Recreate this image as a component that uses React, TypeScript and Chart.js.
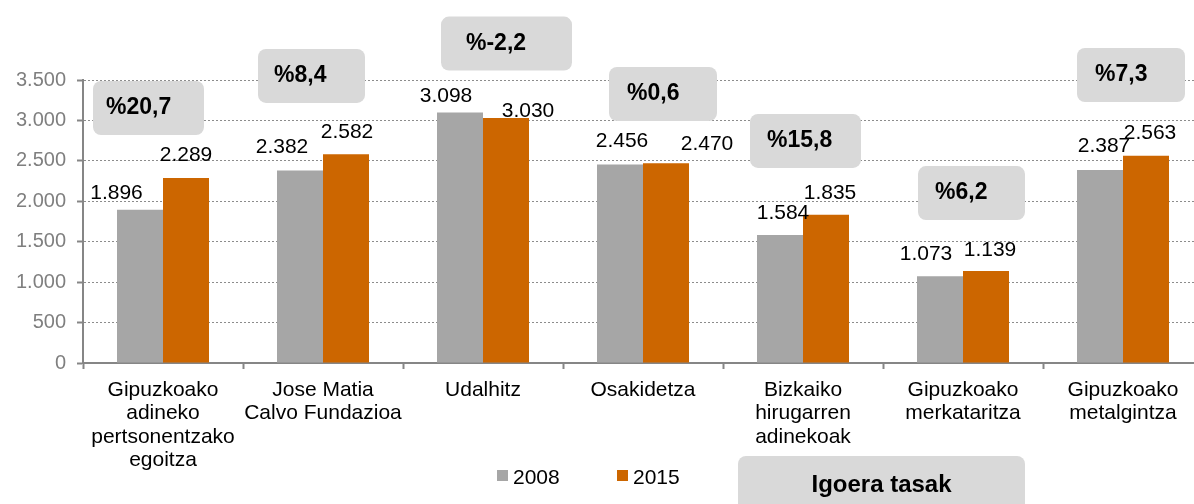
import React, { useEffect, useRef } from "react";
import { Chart, registerables } from "chart.js";

Chart.register(...registerables);

// ---------- data ----------
const categories: string[][] = [
  ["Gipuzkoako", "adineko", "pertsonentzako", "egoitza"],
  ["Jose Matia", "Calvo Fundazioa"],
  ["Udalhitz"],
  ["Osakidetza"],
  ["Bizkaiko", "hirugarren", "adinekoak"],
  ["Gipuzkoako", "merkataritza"],
  ["Gipuzkoako", "metalgintza"],
];
const seriesNames = ["2008", "2015"];
const values2008 = [1896, 2382, 3098, 2456, 1584, 1073, 2387];
const values2015 = [2289, 2582, 3030, 2470, 1835, 1139, 2563];
const growthLabels = ["%20,7", "%8,4", "%-2,2", "%0,6", "%15,8", "%6,2", "%7,3"];
// value (in axis units) at which each growth box is centred
const growthBoxLevel = [3154, 3550, 3951, 3327, 2746, 2102, 3562];
const yMin = 0;
const yMax = 3500;
const yStep = 500;
const footerLabel = "Igoera tasak";

// ---------- styles ----------
const FONT = "'Liberation Sans', Arial, sans-serif";
const GREY = "#A6A6A6";
const ORANGE = "#CC6600";
const AXIS = "#868686";
const BOX = "#D9D9D9";
// label nudges (px) relative to each bar's top centre
const labelDx = [
  [-23.5, -18, -14, 2, 3, -14, 4],
  [0, 1, 22, 41, 4, 4, 4],
];
const labelLift = [
  [16, 23, 16, 23, 22, 22, 24],
  [23, 22.5, 7, 19, 21.5, 21, 23],
];
const boxShift = [-14.5, -11.5, 23.5, 20, 2.5, 8.5, 8];
const boxWidth = [111, 107, 131, 108, 111, 107, 108];
const boxInset = [13, 16, 25, 18, 17, 17, 18];
const BOX_H = 54;

const fmt = (n: number) =>
  String(Math.round(n)).replace(/\B(?=(\d{3})+(?!\d))/g, ".");

const overlay = {
  id: "overlay",
  afterDraw(chart: any) {
    const ctx = chart.ctx as CanvasRenderingContext2D;
    const xs = chart.scales.x;
    const ys = chart.scales.y;
    ctx.save();

    // growth boxes
    growthLabels.forEach((t, i) => {
      const cx = xs.getPixelForValue(i) + boxShift[i];
      const cy = ys.getPixelForValue(growthBoxLevel[i]);
      const left = cx - boxWidth[i] / 2;
      ctx.fillStyle = BOX;
      ctx.beginPath();
      (ctx as any).roundRect(left, cy - BOX_H / 2, boxWidth[i], BOX_H, 8);
      ctx.fill();
      ctx.fillStyle = "#000";
      ctx.font = `bold 23px ${FONT}`;
      ctx.textAlign = "left";
      ctx.textBaseline = "middle";
      ctx.fillText(t, left + boxInset[i], cy);
    });

    // data labels
    chart.data.datasets.forEach((ds: any, di: number) => {
      const meta = chart.getDatasetMeta(di);
      meta.data.forEach((bar: any, i: number) => {
        ctx.fillStyle = "#000";
        ctx.font = `21px ${FONT}`;
        ctx.textAlign = "center";
        ctx.textBaseline = "middle";
        ctx.fillText(fmt(ds.data[i]), bar.x + labelDx[di][i], bar.y - labelLift[di][i]);
      });
    });

    // legend
    const legendX = [497, 617];
    const colors = [GREY, ORANGE];
    seriesNames.forEach((name, k) => {
      ctx.fillStyle = colors[k];
      ctx.fillRect(legendX[k], 470, 11, 11);
      ctx.fillStyle = "#000";
      ctx.font = `21px ${FONT}`;
      ctx.textAlign = "left";
      ctx.textBaseline = "middle";
      ctx.fillText(name, legendX[k] + 16, 478);
    });

    // footer box
    ctx.fillStyle = BOX;
    ctx.beginPath();
    (ctx as any).roundRect(738, 456, 287, 70, 8);
    ctx.fill();
    ctx.fillStyle = "#000";
    ctx.font = `bold 24px ${FONT}`;
    ctx.textAlign = "center";
    ctx.textBaseline = "middle";
    ctx.fillText(footerLabel, 881.5, 485);

    ctx.restore();
  },
};

export default function App() {
  const ref = useRef<HTMLCanvasElement | null>(null);

  useEffect(() => {
    if (!ref.current) return;
    Chart.defaults.font.family = FONT;
    const chart = new Chart(ref.current, {
      type: "bar",
      data: {
        labels: categories as any,
        datasets: [
          {
            label: seriesNames[0],
            data: values2008,
            backgroundColor: GREY,
            categoryPercentage: 0.575,
            barPercentage: 1,
          },
          {
            label: seriesNames[1],
            data: values2015,
            backgroundColor: ORANGE,
            categoryPercentage: 0.575,
            barPercentage: 1,
          },
        ],
      },
      options: {
        responsive: false,
        animation: false,
        devicePixelRatio: 1,
        layout: { padding: { top: 80, right: 7, left: 0, bottom: 0 } },
        plugins: {
          legend: { display: false },
          tooltip: { enabled: false },
          title: { display: false },
        },
        scales: {
          x: {
            ticks: {
              color: "#000",
              font: { size: 21, family: FONT, lineHeight: 1.1 },
              padding: 10,
              maxRotation: 0,
              minRotation: 0,
              autoSkip: false,
            },
            grid: {
              drawOnChartArea: false,
              drawTicks: true,
              tickLength: 6,
              tickColor: AXIS,
              tickWidth: 2,
              offset: true,
            },
            border: { display: true, color: AXIS, width: 2 },
            afterFit: (s: any) => {
              s.height = 141;
            },
          },
          y: {
            min: yMin,
            max: yMax,
            ticks: {
              stepSize: yStep,
              color: "#7F7F7F",
              font: { size: 20, family: FONT },
              padding: 11,
              callback: (v: any) => fmt(Number(v)),
            },
            grid: {
              color: "#8C8C8C",
              lineWidth: 1,
              tickLength: 6,
              tickColor: AXIS,
              tickWidth: 2,
              tickBorderDash: [],
              borderDash: [2, 2],
            } as any,
            border: { display: true, color: AXIS, width: 2, dash: [2, 2] },
            afterFit: (s: any) => {
              s.width = 83;
            },
          },
        },
      },
      plugins: [overlay],
    });
    return () => chart.destroy();
  }, []);

  return (
    <div
      style={{
        position: "fixed",
        left: 0,
        top: 0,
        width: 1194,
        height: 504,
        overflow: "hidden",
        background: "#fff",
      }}
    >
      <canvas ref={ref} width={1210} height={504} style={{ display: "block" }} />
    </div>
  );
}
